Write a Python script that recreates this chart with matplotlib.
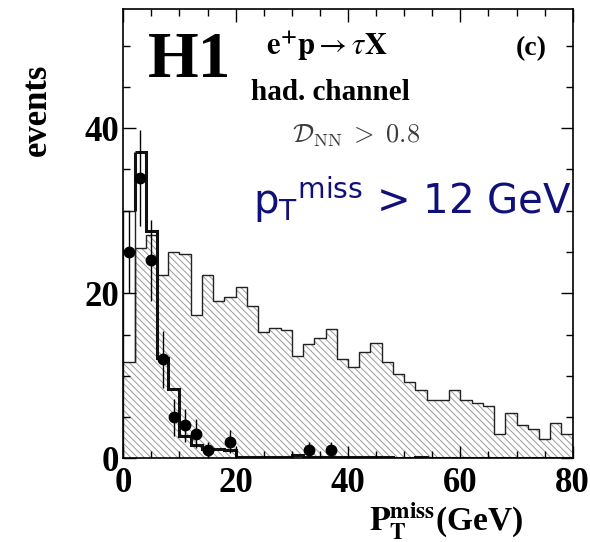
import numpy as np
import matplotlib
matplotlib.use("Agg")
import matplotlib.pyplot as plt
from matplotlib.ticker import MultipleLocator

plt.rcParams["hatch.linewidth"] = 0.7

# 2 GeV bins from 0 to 80 GeV
bin_edges = np.arange(0, 82, 2)

# hatched histogram (signal-like, wide distribution)
signal = [11.7, 25.5, 27.1, 22.2, 25.0, 24.8, 17.4, 22.2, 19.0, 19.5,
          20.7, 18.5, 15.3, 15.8, 15.6, 12.4, 13.9, 14.6, 15.7, 12.0,
          11.1, 12.9, 14.0, 11.7, 10.2, 9.3, 8.3, 7.1, 7.1, 8.3,
          7.1, 6.7, 6.3, 2.9, 5.5, 4.0, 3.5, 2.4, 4.3, 3.0]

# SM expectation (thick line)
sm_expect = [30.0, 37.1, 27.5, 12.1, 8.4, 2.7, 1.6, 1.1, 1.1, 1.0,
             0.2, 0.2, 0.2, 0.2, 0.2, 0.4, 0.2, 0.2, 0.2, 0.2,
             0.2, 0.2, 0.2, 0.2, 0.0, 0.0, 0.15, 0.0, 0.0, 0.0,
             0.0, 0.0, 0.0, 0.0, 0.0, 0.0, 0.0, 0.0, 0.0, 0.0]

# observed events
data_x = [1, 3, 5, 7, 9, 11, 13, 15, 19, 33, 37]
data_n = [25, 34, 24, 12, 5, 4, 3, 1, 2, 1, 1]

serif = "Liberation Serif"

fig = plt.figure(figsize=(5.9, 5.42), dpi=100)
ax = fig.add_axes([0.209, 0.1544, 0.7617, 0.8284])

# hatched fill + thin outline
ax.stairs(signal, bin_edges, fill=True, facecolor="none", edgecolor="#9a9a9a",
          hatch="\\" * 5, linewidth=0)
ax.stairs(signal, bin_edges, color="#222222", linewidth=1.0)

# first bin drawn as thin box, the rest thick
ax.stairs([sm_expect[0]], bin_edges[:2], baseline=signal[0], color="#222222",
          linewidth=1.0)
ax.stairs(sm_expect[1:], bin_edges[1:], baseline=None, color="#111111",
          linewidth=2.2)
ax.vlines(bin_edges[1], sm_expect[0], sm_expect[1], color="#111111",
          linewidth=2.2)

ax.errorbar(data_x, data_n, yerr=np.sqrt(data_n), fmt="o", color="black",
            ms=7.5, elinewidth=1.0, capsize=0)

ax.set_xlim(0, 80)
ax.set_ylim(0, 54.4)
ax.xaxis.set_major_locator(MultipleLocator(20))
ax.xaxis.set_minor_locator(MultipleLocator(5))
ax.yaxis.set_major_locator(MultipleLocator(20))
ax.yaxis.set_minor_locator(MultipleLocator(5))
ax.tick_params(which="both", direction="in", top=True, right=True, width=1.0)
ax.tick_params(which="major", length=9)
ax.tick_params(which="minor", length=5)
ax.tick_params(axis="x", pad=6)
ax.tick_params(axis="y", pad=3)
for lab in ax.get_xticklabels() + ax.get_yticklabels():
    lab.set_fontfamily(serif)
    lab.set_fontweight("bold")
    lab.set_fontsize(25)
for sp in ax.spines.values():
    sp.set_linewidth(1.2)

W, H = 590.0, 542.0

def px(x, y):
    return x / W, 1 - y / H

fig.text(*px(37, 110), "events", rotation=90, ha="center", va="center",
         family=serif, weight="bold", fontsize=25)
fig.text(*px(523, 531), r"$\mathbf{P}_\mathbf{T}^\mathbf{miss}$(GeV)",
         ha="right", va="baseline", family=serif, weight="bold", fontsize=24,
         math_fontfamily="stix")

fig.text(*px(148, 77), "H1", ha="left", va="baseline", family=serif,
         weight="bold", fontsize=47)
fig.text(*px(327, 55), r"$\mathbf{e^{+}p}\rightarrow\tau\mathbf{X}$",
         ha="center", va="baseline", fontsize=22, math_fontfamily="stix")
fig.text(*px(330, 100), "had. channel", ha="center", va="baseline",
         family=serif, weight="bold", fontsize=21)
fig.text(*px(531, 55), "(c)", ha="center", va="baseline", family=serif,
         weight="bold", fontsize=20)
fig.text(*px(356, 143), r"$\mathcal{D}_{\rm NN}\;>\;0.8$", ha="center",
         va="baseline", fontsize=19, color="#3c3c3c", math_fontfamily="cm")
fig.text(*px(572, 214), r"p$_{\mathrm{T}}$$^{\mathrm{miss}}$ > 12 GeV",
         ha="right", va="baseline", family="DejaVu Sans", fontsize=29,
         color="#10107a")

fig.savefig("out.png", dpi=100)
